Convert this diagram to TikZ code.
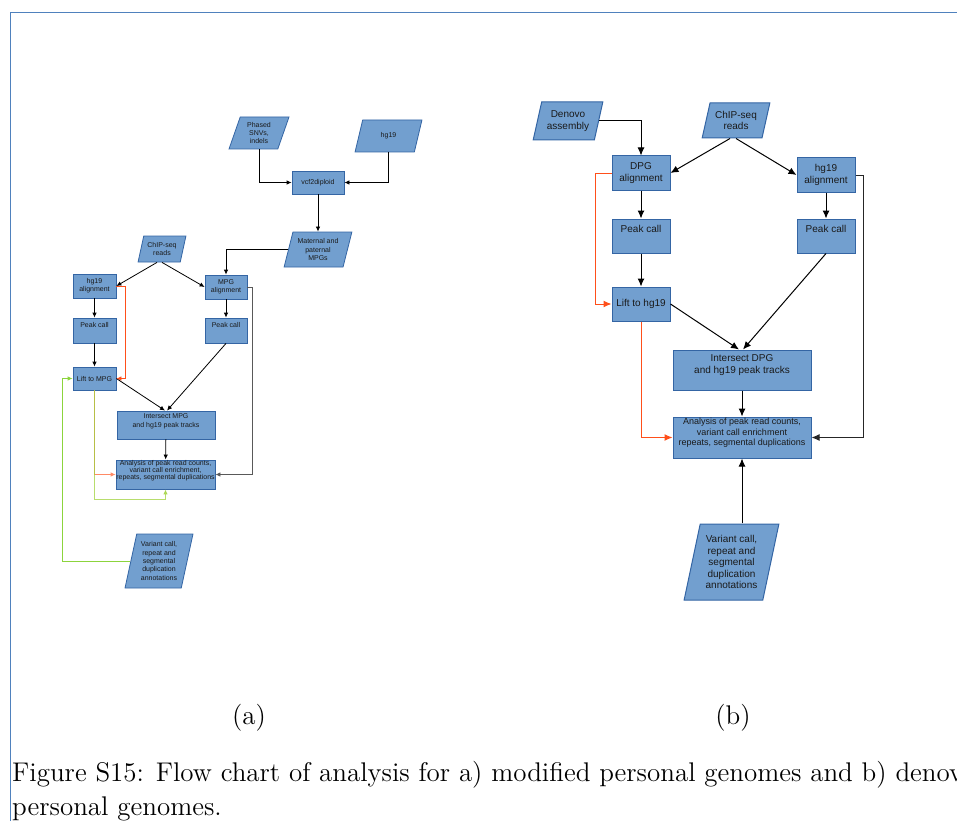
\documentclass[tikz,border=0pt]{standalone}
\usepackage{fontspec}
\newfontfamily\libsans{Liberation Sans}
\usetikzlibrary{shapes.geometric,arrows.meta}
\definecolor{boxfill}{HTML}{729FCF}
\definecolor{boxline}{HTML}{3465A4}
\definecolor{txt}{HTML}{1A1A1A}
\definecolor{liftred}{HTML}{FF4F1A}
\definecolor{salmon}{HTML}{FF8A65}
\definecolor{limegreen}{HTML}{8CD43C}
\definecolor{loopgreen}{HTML}{A0D23C}
\definecolor{framecol}{HTML}{4F81BD}
\begin{document}
\begin{tikzpicture}[x=1pt, y=-1pt,
  small/.style={font=\libsans\fontsize{7}{8.3}\selectfont},
  big/.style={font=\libsans\fontsize{10}{11.5}\selectfont},
  proc/.style={rectangle, draw=boxline, fill=boxfill, inner sep=0.5pt,
               align=center, text=txt},
  data/.style={trapezium, trapezium left angle=72, trapezium right angle=108,
               trapezium stretches=true, draw=boxline, fill=boxfill,
               inner sep=0.5pt, align=center, text=txt},
  sz/.style 2 args={minimum width=#1, minimum height=#2},
  arr/.style={-{Latex[length=5pt,width=4.5pt]}, line width=0.8pt},
  arrb/.style={-{Latex[length=8pt,width=7pt]}, line width=1pt}
]
  \useasboundingbox (0,0) rectangle (957,821);
  \draw[framecol, line width=1pt] (10.5,821) -- (10.5,12.5) -- (957,12.5);

  % (a) modified personal genomes
  \begin{scope}[small, line width=0.8pt]
    \node[data, sz={60}{32}] (snv) at (259,133) {Phased\\SNVs,\\indels};
    \node[data, sz={67}{32}] (hgref) at (388.5,136) {hg19};
    \node[proc, sz={52}{23}] (vcf) at (318,182.5) {vcf2diploid};
    \node[data, sz={68}{35}] (mpgs) at (318,249.5) {Maternal and\\paternal\\MPGs};
    \node[data, sz={48}{26}] (chipa) at (162,249) {ChIP-seq\\reads};
    \node[proc, sz={43}{24}] (hgala) at (94.5,286) {hg19\\alignment};
    \node[proc, sz={42}{24}] (mpgal) at (226,287) {MPG\\alignment};
    \node[proc, sz={43}{25}, text depth=10.5pt] (peakha) at (94.5,330.5) {Peak call};
    \node[proc, sz={42}{25}, text depth=10.5pt] (peakma) at (226,330.5) {Peak call};
    \node[proc, sz={43}{23}] (lifta) at (94.5,378.5) {Lift to MPG};
    \node[proc, sz={98}{28}, text depth=9pt] (inta) at (166,425) {Intersect MPG\\and hg19 peak tracks};
    \node[proc, sz={99}{29}, inner sep=0pt, text depth=9pt,
          font=\libsans\fontsize{7}{7.2}\selectfont] (anaa) at (165.5,474.5)
          {Analysis of peak read counts,\\variant call enrichment,\\repeats, segmental duplications};
    \node[data, sz={68}{54}, trapezium left angle=76, trapezium right angle=104] (vara) at (159,561)
          {Variant call,\\repeat and\\segmental\\duplication\\annotations};
  \end{scope}

  \draw[arr] (snv.south) |- (vcf.west);
  \draw[arr] (hgref.south) |- (vcf.east);
  \draw[arr] (vcf) -- (mpgs);
  \draw[arr] (mpgs.west) -| (mpgal.north);
  \draw[arr] ([xshift=-5pt]chipa.south) -- (hgala.east);
  \draw[arr] (chipa.south) -- (mpgal.west);
  \draw[arr] (hgala) -- (peakha);
  \draw[arr] (peakha) -- (lifta);
  \draw[arr] (mpgal) -- (peakma);
  \draw[arr] (lifta.east) -- ([xshift=-1pt]inta.north);
  \draw[arr] (peakma.south) -- ([xshift=1pt]inta.north);
  \draw[arr] (inta) -- (anaa);
  \draw[arr, black!65] (mpgal.east) -- ++(5,0) |- (anaa.east);
  \draw[arr, liftred] (hgala.east) -- ++(9,0) |- (lifta.east);
  \draw[arr, salmon] (lifta.south) |- (anaa.west);
  \draw[arr, loopgreen, opacity=0.75] (lifta.south) -- ++(0,109) -| (anaa.south);
  \draw[arr, limegreen] (vara.west) -| ([xshift=-10pt]lifta.west) -- (lifta.west);

  % (b) denovo personal genomes
  \begin{scope}[big, line width=1pt]
    \node[data, sz={70}{38}] (denovo) at (568,121) {Denovo\\assembly};
    \node[data, sz={68}{35}] (chipb) at (736,120.5) {ChIP-seq\\reads};
    \node[proc, sz={58}{34}] (dpgal) at (641,173) {DPG\\alignment};
    \node[proc, sz={58}{34}] (hgalb) at (826,175) {hg19\\alignment};
    \node[proc, sz={58}{34}, text depth=14pt] (peakd) at (641,236) {Peak call};
    \node[proc, sz={58}{34}, text depth=14pt] (peakhb) at (826,236) {Peak call};
    \node[proc, sz={58}{34}] (liftb) at (641,304) {Lift to hg19};
    \node[proc, sz={138}{40}, text depth=12pt] (intb) at (742,370) {Intersect DPG\\and hg19 peak tracks};
    \node[proc, sz={138}{41}, text depth=11pt,
          font=\libsans\fontsize{9}{10.3}\selectfont] (anab) at (742,437.5)
          {Analysis of peak read counts,\\variant call enrichment\\repeats, segmental duplications};
    \node[data, sz={95}{76}, trapezium left angle=76, trapezium right angle=104] (varb) at (731.5,562)
          {Variant call,\\repeat and\\segmental\\duplication\\annotations};
  \end{scope}

  \draw[arrb] (denovo.east) -| (dpgal.north);
  \draw[arrb] ([xshift=-6pt]chipb.south) -- (dpgal.east);
  \draw[arrb] (chipb.south) -- (hgalb.west);
  \draw[arrb] (dpgal) -- (peakd);
  \draw[arrb] (peakd) -- (liftb);
  \draw[arrb] (hgalb) -- (peakhb);
  \draw[arrb] (liftb.east) -- ([xshift=-3pt]intb.north);
  \draw[arrb] (peakhb.south) -- ([xshift=1pt]intb.north);
  \draw[arrb] (intb) -- (anab);
  \draw[arrb] (anab.south |- varb.north) -- (anab.south);
  \draw[arrb, liftred] (dpgal.west) -- ++(-16,0) |- (liftb.west);
  \draw[arrb, liftred] (liftb.south) |- (anab.west);
  \draw[arrb, black!85] (hgalb.east) -- ++(8,0) |- (anab.east);

  % sub-captions and caption
  \node (capa) at (249,718) {\scalebox{2.25}{\fontsize{12}{14.5}\selectfont (a)}};
  \node (capb) at (733,718) {\scalebox{2.25}{\fontsize{12}{14.5}\selectfont (b)}};
  \node[anchor=north west, inner sep=0pt] (cap) at (12,757)
    {\scalebox{2.25}{\fontsize{12}{15.2}\selectfont\begin{tabular}{@{}l@{}}
      Figure S15: Flow chart of analysis for a) modified personal genomes and b) denovo\\
      personal genomes.\end{tabular}}};
\end{tikzpicture}
\end{document}
